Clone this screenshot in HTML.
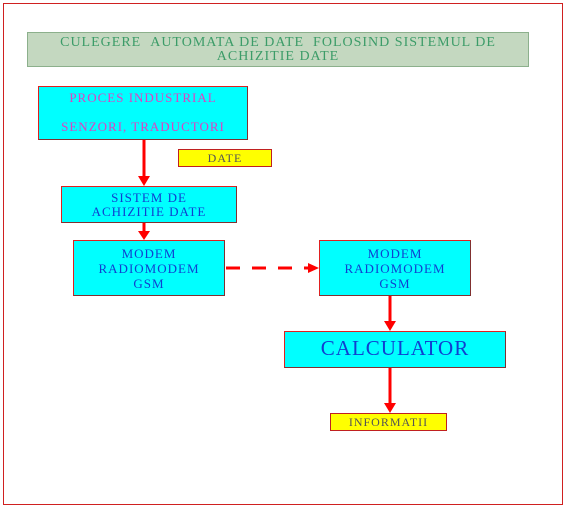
<!DOCTYPE html>
<html><head><style>
body{margin:0;width:566px;height:507px;background:#fff;position:relative;overflow:hidden;font-family:"Liberation Serif",serif}
.b{position:absolute;box-sizing:border-box;text-align:center;line-height:1.1;white-space:nowrap}
.c{background:#00ffff;border:1px solid #e02020;border-right-color:#803030;border-bottom-color:#803030;letter-spacing:1px}
.y{background:#ffff00;border:1px solid #c02020;color:#555;font-size:12px;letter-spacing:1px}
</style></head><body>
<div class="b" style="left:3px;top:3px;width:560px;height:502px;border:1px solid #d02020"></div>
<div class="b" style="left:27px;top:32px;width:502px;height:35px;background:#c4d8c0;border:1px solid #8cb08c;color:#3c9c68;font-size:14px;padding-top:3px;line-height:14px;letter-spacing:1px">CULEGERE &nbsp;AUTOMATA DE DATE &nbsp;FOLOSIND SISTEMUL DE<br>ACHIZITIE DATE</div>
<div class="b c" style="left:38px;top:86px;width:210px;height:54px;color:#e040c0;font-size:13px;padding-top:4px">PROCES INDUSTRIAL<br><br>SENZORI, TRADUCTORI</div>
<div class="b y" style="left:178px;top:149px;width:94px;height:18px;padding-top:2px">DATE</div>
<div class="b c" style="left:61px;top:186px;width:176px;height:37px;color:#1040d0;font-size:13px;padding-top:4px">SISTEM DE<br>ACHIZITIE DATE</div>
<div class="b c" style="left:73px;top:240px;width:152px;height:56px;color:#1040d0;font-size:13px;padding-top:5px;line-height:15px">MODEM<br>RADIOMODEM<br>GSM</div>
<div class="b c" style="left:319px;top:240px;width:152px;height:56px;color:#1040d0;font-size:13px;padding-top:5px;line-height:15px">MODEM<br>RADIOMODEM<br>GSM</div>
<div class="b c" style="left:284px;top:331px;width:222px;height:37px;color:#1040d0;font-size:21px;padding-top:5px">CALCULATOR</div>
<div class="b y" style="left:330px;top:413px;width:117px;height:18px;padding-top:2px">INFORMATII</div>
<svg style="position:absolute;left:0;top:0" width="566" height="507">
<g stroke="#ff0000" stroke-width="3" fill="#ff0000">
<line x1="144" y1="140" x2="144" y2="178"/><polygon points="138,176 150,176 144,186" stroke="none"/>
<line x1="144" y1="223" x2="144" y2="233"/><polygon points="138,231 150,231 144,240" stroke="none"/>
<line x1="226" y1="268" x2="312" y2="268" stroke-dasharray="14,12"/><polygon points="308,263 308,273 319,268" stroke="none"/>
<line x1="390" y1="296" x2="390" y2="323"/><polygon points="384,321 396,321 390,331" stroke="none"/>
<line x1="390" y1="368" x2="390" y2="405"/><polygon points="384,403 396,403 390,413" stroke="none"/>
</g></svg>
</body></html>
